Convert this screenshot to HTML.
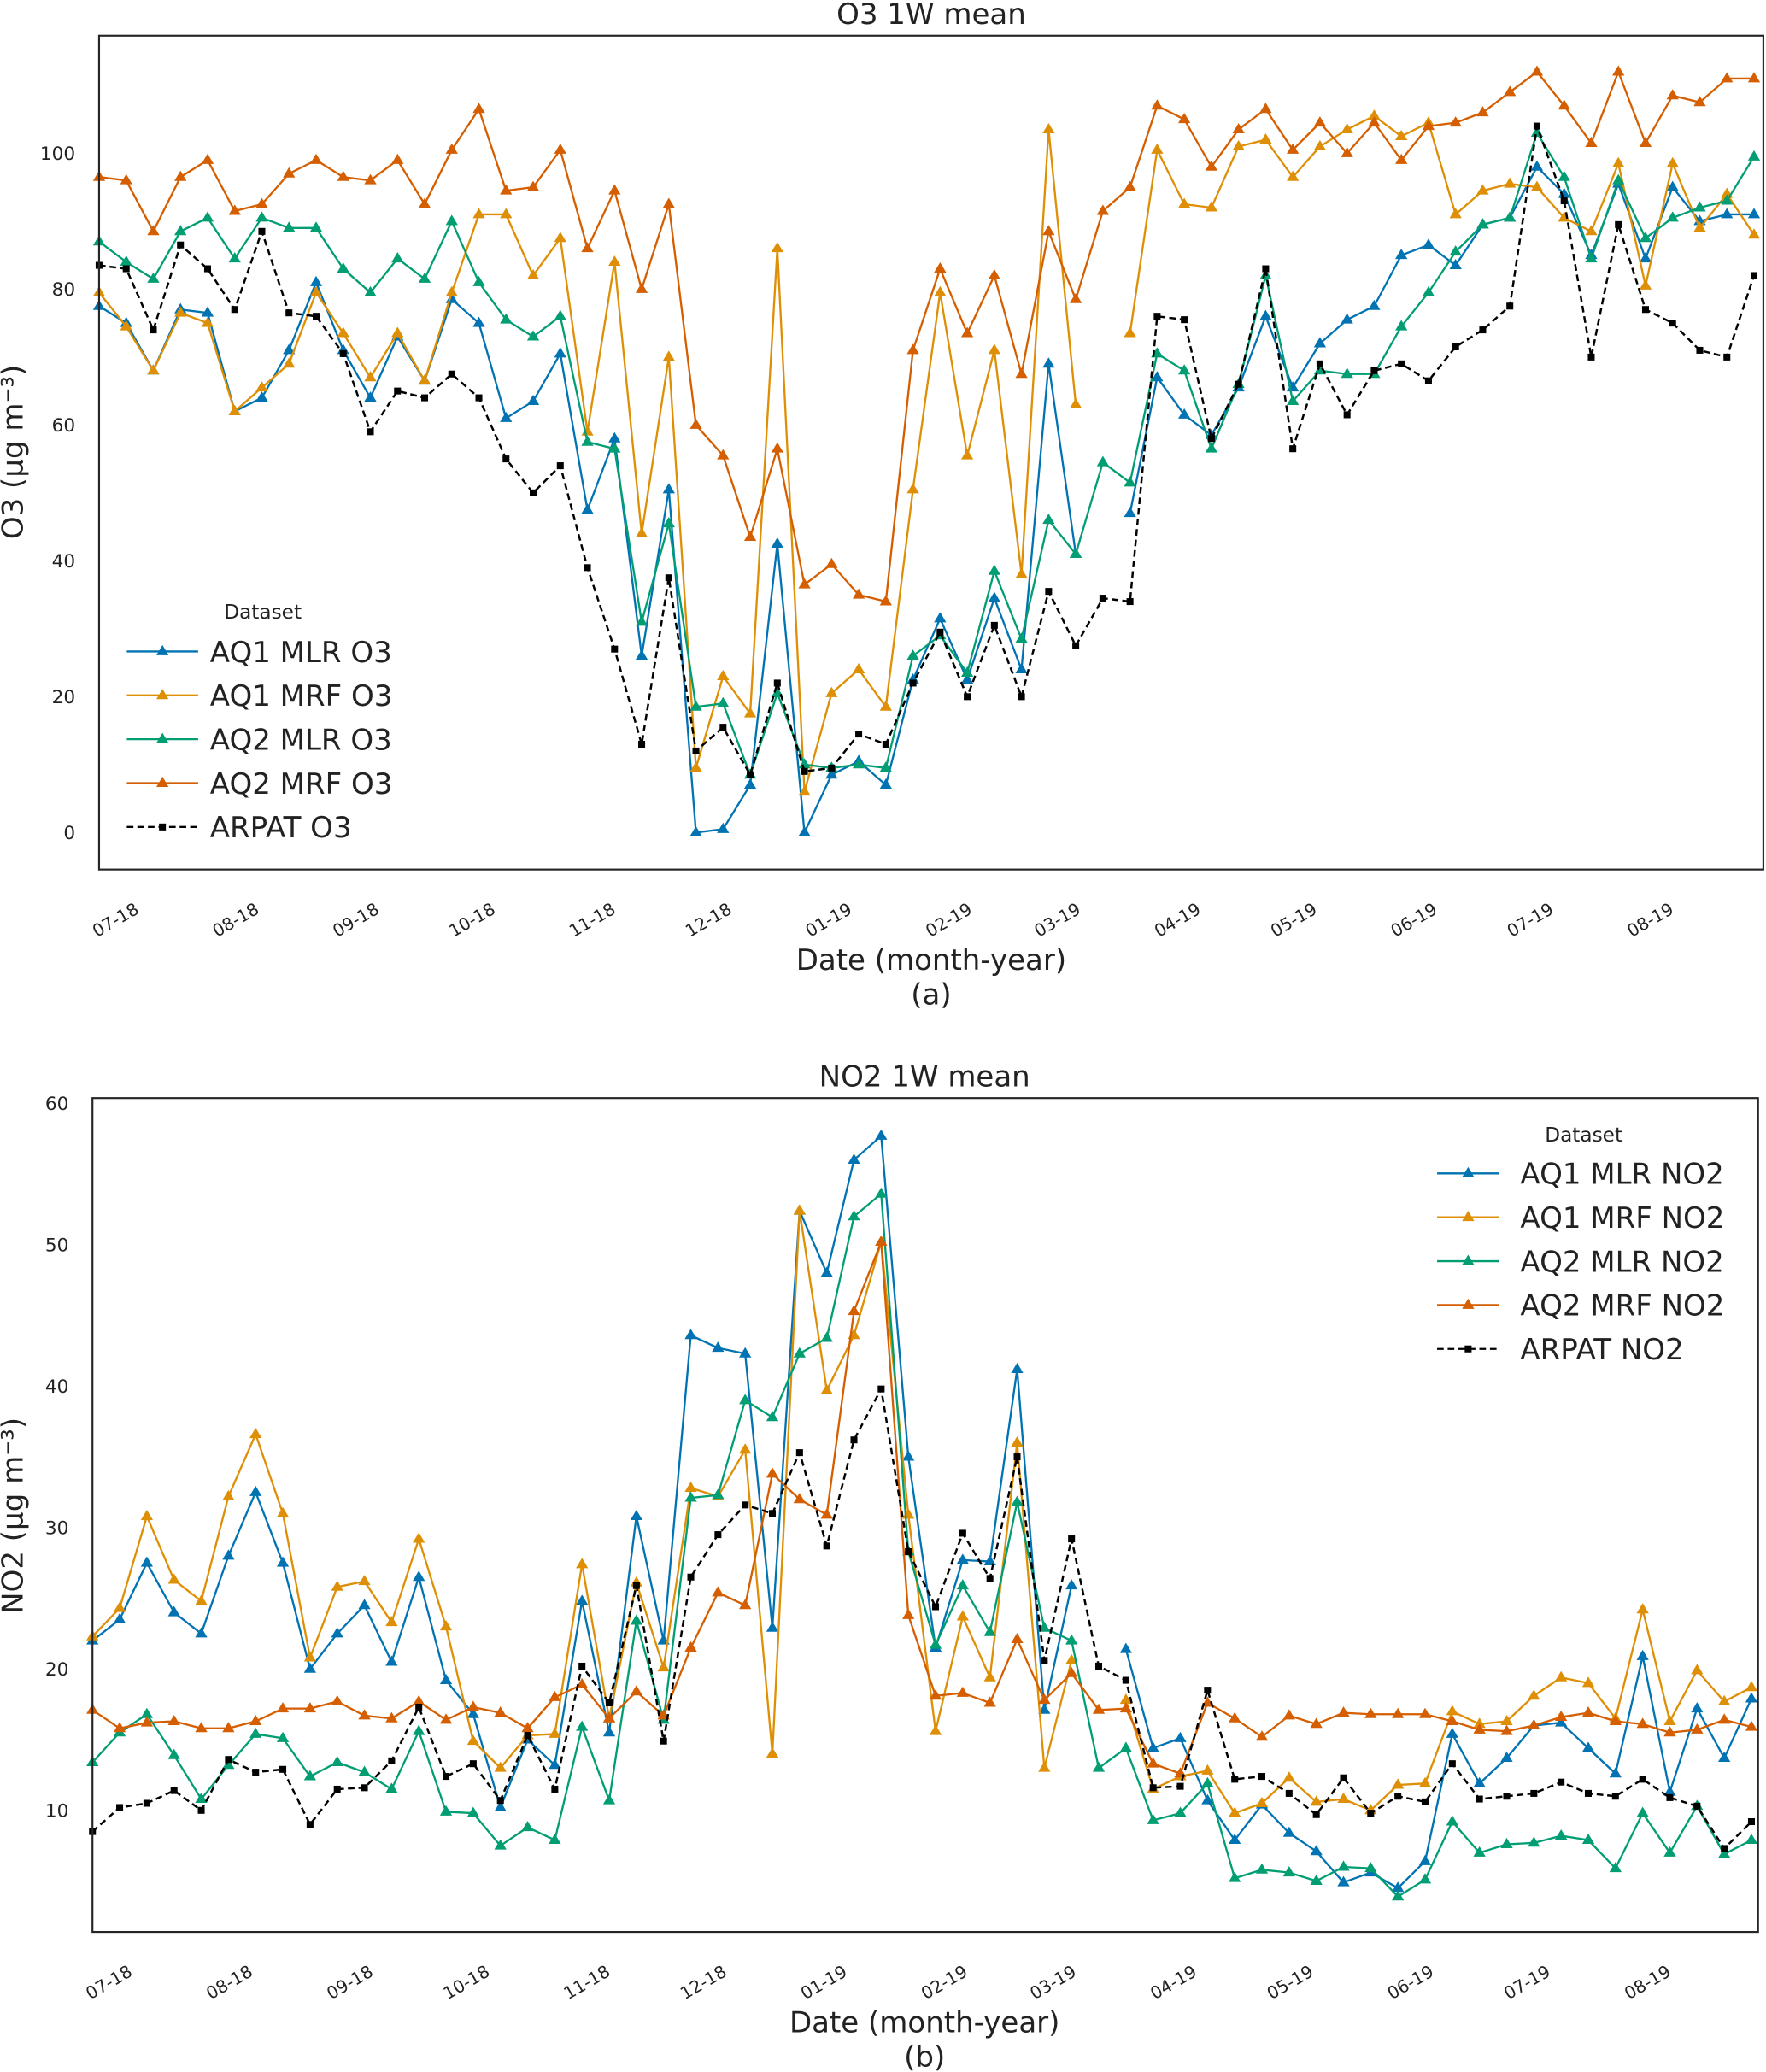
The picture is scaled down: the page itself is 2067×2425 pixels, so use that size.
<!DOCTYPE html>
<html><head><meta charset="utf-8"><style>
html,body{margin:0;padding:0;background:#fff;}
svg{display:block;font-family:"DejaVu Sans","Liberation Sans",sans-serif;}
</style></head><body>
<svg id="fig" xmlns="http://www.w3.org/2000/svg" width="2067" height="2425" viewBox="0 0 1337 1568" preserveAspectRatio="none"></svg>
<script>
const dateLabels = ["07-18","08-18","09-18","10-18","11-18","12-18","01-19","02-19","03-19","04-19","05-19","06-19","07-19","08-19"];
const monthStarts = ["2018-07-01","2018-08-01","2018-09-01","2018-10-01","2018-11-01","2018-12-01","2019-01-01","2019-02-01","2019-03-01","2019-04-01","2019-05-01","2019-06-01","2019-07-01","2019-08-01"];
const firstWeek = "2018-06-26";
const o3Ticks = [0,20,40,60,80,100];
const no2Ticks = [10,20,30,40,50,60];
const seriesNamesO3 = ["AQ1 MLR O3","AQ1 MRF O3","AQ2 MLR O3","AQ2 MRF O3","ARPAT O3"];
const seriesNamesNO2 = ["AQ1 MLR NO2","AQ1 MRF NO2","AQ2 MLR NO2","AQ2 MRF NO2","ARPAT NO2"];
const o3Aq1Mlr = [77.5,75,68,77,76.5,62,64,71,81,71,64,73,66.5,78.5,75,61,63.5,70.5,47.5,58,26,50.5,0,0.5,7,42.5,0,8.5,10.5,7,22.5,31.5,22.5,34.5,24,69,41,null,47,67,61.5,58.5,65.5,76,65.5,72,75.5,77.5,85,86.5,83.5,89.5,90.5,98,94,85,95.5,84.5,95,90,91,91];
const o3Aq1Mrf = [79.5,74.5,68,76.5,75,62,65.5,69,79.5,73.5,67,73.5,66.5,79.5,91,91,82,87.5,59,84,44,70,9.5,23,17.5,86,6,20.5,24,18.5,50.5,79.5,55.5,71,38,103.5,63,null,73.5,100.5,92.5,92,101,102,96.5,101,103.5,105.5,102.5,104.5,91,94.5,95.5,95,90.5,88.5,98.5,80.5,98.5,89,94,88];
const o3Aq2Mlr = [87,84,81.5,88.5,90.5,84.5,90.5,89,89,83,79.5,84.5,81.5,90,81,75.5,73,76,57.5,56.5,31,45.5,18.5,19,8.5,20.5,10,9.5,10,9.5,26,29,23.5,38.5,28.5,46,41,54.5,51.5,70.5,68,56.5,66,82,63.5,68,67.5,67.5,74.5,79.5,85.5,89.5,90.5,103,96.5,84.5,96,87.5,90.5,92,93,99.5];
const o3Aq2Mrf = [96.5,96,88.5,96.5,99,91.5,92.5,97,99,96.5,96,99,92.5,100.5,106.5,94.5,95,100.5,86,94.5,80,92.5,60,55.5,43.5,56.5,36.5,39.5,35,34,71,83,73.5,82,67.5,88.5,78.5,91.5,95,107,105,98,103.5,106.5,100.5,104.5,100,104.5,99,104,104.5,106,109,112,107,101.5,112,101.5,108.5,107.5,111,111];
const o3Arpat = [83.5,83,74,86.5,83,77,88.5,76.5,76,70.5,59,65,64,67.5,64,55,50,54,39,27,13,37.5,12,15.5,8.5,22,9,9.5,14.5,13,22,29.5,20,30.5,20,35.5,27.5,34.5,34,76,75.5,58,66,83,56.5,69,61.5,68,69,66.5,71.5,74,77.5,104,93,70,89.5,77,75,71,70,82];
const no2Aq1Mlr = [22,23.5,27.5,24,22.5,28,32.5,27.5,20,22.5,24.5,20.5,26.5,19.2,16.8,10.2,15,13.2,24.8,15.5,30.8,22,43.6,42.7,42.3,22.9,52.4,48,56,57.7,35,21.5,27.7,27.6,41.2,17.1,25.9,null,21.4,14.4,15.1,10.7,7.9,10.4,8.4,7.1,4.9,5.6,4.5,6.4,15.4,11.9,13.7,16,16.2,14.4,12.6,20.9,11.3,17.2,13.7,17.9];
const no2Aq1Mrf = [22.3,24.3,30.8,26.3,24.8,32.2,36.6,31,20.8,25.8,26.2,23.3,29.2,23,14.9,13,15.3,15.4,27.4,16.5,26.1,20.1,32.8,32.2,35.5,14,52.4,39.7,43.6,50.2,30.9,15.6,23.7,19.4,36,13,20.6,null,17.8,11.5,12.4,12.8,9.8,10.5,12.3,10.6,10.8,10,11.8,11.9,17,16.1,16.3,18.1,19.4,19,16.5,24.2,16.3,19.9,17.7,18.7];
const no2Aq2Mlr = [13.4,15.5,16.8,13.9,10.8,13.2,15.4,15.1,12.4,13.4,12.7,11.5,15.6,9.9,9.8,7.5,8.8,7.9,15.9,10.7,23.4,16.4,32.1,32.3,39,37.8,42.3,43.4,52,53.6,28.3,21.7,25.9,22.6,31.8,22.9,22,13,14.4,9.3,9.8,11.9,5.2,5.8,5.6,5,6,5.9,3.9,5.1,9.2,7,7.6,7.7,8.2,7.9,5.9,9.8,7,10.3,6.9,7.9];
const no2Aq2Mrf = [17.1,15.8,16.2,16.3,15.8,15.8,16.3,17.2,17.2,17.7,16.7,16.5,17.7,16.4,17.3,16.9,15.8,18,18.9,16.5,18.4,16.7,21.5,25.4,24.5,33.8,32,30.9,45.3,50.2,23.8,18.1,18.3,17.6,22.1,17.8,19.7,17.1,17.2,13.3,12.6,17.6,16.5,15.2,16.7,16.1,16.9,16.8,16.8,16.8,16.3,15.7,15.6,16,16.6,16.9,16.3,16.1,15.5,15.7,16.4,15.9];
const no2Arpat = [8.5,10.2,10.5,11.4,10,13.6,12.7,12.9,9,11.5,11.6,13.5,17.3,12.4,13.3,10.7,15.3,11.5,20.2,17.6,25.9,14.9,26.5,29.5,31.6,31,35.3,28.7,36.2,39.8,28.3,24.4,29.6,26.4,35,20.6,29.2,20.2,19.2,11.6,11.7,18.5,12.2,12.4,11.2,9.7,12.3,9.8,11,10.6,13.3,10.8,11,11.2,12,11.2,11,12.2,10.9,10.3,7.3,9.2];

const NS = "http://www.w3.org/2000/svg";
const svg = document.getElementById('fig');
const colors = ["#0173b2","#de8f05","#029e73","#d55e00","#000000"];

function mk(tag, attrs, parent) {
  const e = document.createElementNS(NS, tag);
  for (const k in attrs) e.setAttribute(k, attrs[k]);
  (parent || svg).appendChild(e);
  return e;
}
function dayDiff(a, b) { return (Date.parse(a) - Date.parse(b)) / 86400000; }

function tri(g, x, y, c, r) {
  return mk('polygon', {points: `${x},${y - r} ${x - r * 0.95},${y + r * 0.6} ${x + r * 0.95},${y + r * 0.6}`, fill: c, stroke: c, 'stroke-width': 0.5}, g);
}

function drawChart(cfg) {
  const g = mk('g', {});
  
  
  const xs = i => cfg.x0 + cfg.dx * i;
  const ys = v => cfg.yZero - cfg.yScale * v;

  const title = mk('text', {x: cfg.titleX, y: cfg.titleY, 'text-anchor': 'middle', 'font-size': 22, fill: '#222'}, g);
  title.textContent = cfg.title;
  
  

  cfg.ticks.forEach(t => {
    const tl = mk('text', {x: cfg.tickLabelX, y: ys(t) + 5, 'text-anchor': 'end', 'font-size': 14, fill: '#222'}, g);
    tl.textContent = t;
    
    
  });

  dateLabels.forEach((lab, k) => {
    const tx = xs(dayDiff(monthStarts[k], firstWeek) / 7);
    const ty = cfg.xLabelY;
    const tl = mk('text', {x: tx, y: ty, 'text-anchor': 'middle', 'font-size': 13, fill: '#222', transform: `rotate(-30 ${tx} ${ty})`}, g);
    tl.textContent = lab;
    
    
  });

  const xt = mk('text', {x: cfg.titleX, y: cfg.xTitleY, 'text-anchor': 'middle', 'font-size': 22, fill: '#222'}, g);
  xt.textContent = 'Date (month-year)';
  
  
  const pl = mk('text', {x: cfg.titleX, y: cfg.xTitleY + 26, 'text-anchor': 'middle', 'font-size': 22, fill: '#222'}, g);
  pl.textContent = cfg.panel;
  
  

  const yt = mk('text', {x: 0, y: 0, 'text-anchor': 'middle', 'font-size': 22, fill: '#222', transform: `translate(${cfg.yTitleX} ${cfg.yTitleY}) rotate(-90)`}, g);
  yt.textContent = cfg.yTitle;
  
  

  cfg.series.forEach((data, s) => {
    const sg = mk('g', {}, g);
    
    
    const c = colors[s];
    let segs = [], cur = [];
    data.forEach((v, i) => {
      if (v === null) { if (cur.length) segs.push(cur); cur = []; }
      else cur.push(xs(i).toFixed(2) + ',' + ys(v).toFixed(2));
    });
    if (cur.length) segs.push(cur);
    segs.forEach(sp => {
      const line = mk('polyline', {points: sp.join(' '), fill: 'none', stroke: c, 'stroke-width': s === 4 ? 1.6 : 1.5, 'stroke-dasharray': s === 4 ? '5,3' : 'none', 'stroke-linejoin': 'round'}, sg);
      
      
    });
    data.forEach((v, i) => {
      if (v === null) return;
      let m;
      if (s === 4) m = mk('rect', {x: xs(i) - 2.6, y: ys(v) - 2.6, width: 5.2, height: 5.2, fill: '#000'}, sg);
      else m = tri(sg, xs(i), ys(v), c, 4.4);
      
      
    });
  });

  const frame = mk('rect', {x: cfg.box[0], y: cfg.box[1], width: cfg.box[2], height: cfg.box[3], fill: 'none', stroke: '#262626', 'stroke-width': 1.4}, g);
  
  

  const lg = mk('g', {}, g);
  
  
  const lt = mk('text', {x: cfg.leg.titleX, y: cfg.leg.titleY, 'text-anchor': 'middle', 'font-size': 15, fill: '#222'}, lg);
  lt.textContent = 'Dataset';
  
  
  cfg.names.forEach((n, s) => {
    const y = cfg.leg.y0 + cfg.leg.dy * s;
    const eg = mk('g', {}, lg);
    
    
    mk('line', {x1: cfg.leg.x1, x2: cfg.leg.x2, y1: y, y2: y, stroke: colors[s], 'stroke-width': 1.5, 'stroke-dasharray': s === 4 ? '5,3' : 'none'}, eg);
    const mx = (cfg.leg.x1 + cfg.leg.x2) / 2;
    if (s === 4) mk('rect', {x: mx - 2.6, y: y - 2.6, width: 5.2, height: 5.2, fill: '#000'}, eg);
    else tri(eg, mx, y, colors[s], 4.4);
    const t = mk('text', {x: cfg.leg.tx, y: y + 8, 'font-size': 22, fill: '#222'}, eg);
    t.textContent = n;
  });
}

drawChart({
  key: 'o3', title: 'O3 1W mean', panel: '(a)', yTitle: 'O3 (µg m\u207B\u00B3)',
  x0: 75, dx: 20.54, yZero: 630, yScale: 5.14, ticks: o3Ticks,
  box: [75, 27, 1260, 631], titleX: 705, titleY: 18, tickLabelX: 57,
  xLabelY: 700, xTitleY: 734, yTitleX: 17, yTitleY: 342,
  series: [o3Aq1Mlr, o3Aq1Mrf, o3Aq2Mlr, o3Aq2Mrf, o3Arpat], names: seriesNamesO3,
  leg: {titleX: 199, titleY: 468, y0: 493, dy: 33.2, x1: 96, x2: 150, tx: 159}
});
drawChart({
  key: 'no2', title: 'NO2 1W mean', panel: '(b)', yTitle: 'NO2 (µg m\u207B\u00B3)',
  x0: 70, dx: 20.59, yZero: 1477, yScale: 10.7, ticks: no2Ticks,
  box: [70, 831, 1261, 631], titleX: 700, titleY: 822, tickLabelX: 52,
  xLabelY: 1504, xTitleY: 1538, yTitleX: 17, yTitleY: 1147,
  series: [no2Aq1Mlr, no2Aq1Mrf, no2Aq2Mlr, no2Aq2Mrf, no2Arpat], names: seriesNamesNO2,
  leg: {titleX: 1199, titleY: 864, y0: 888, dy: 33.2, x1: 1088, x2: 1135, tx: 1151}
});
</script>
</body></html>
